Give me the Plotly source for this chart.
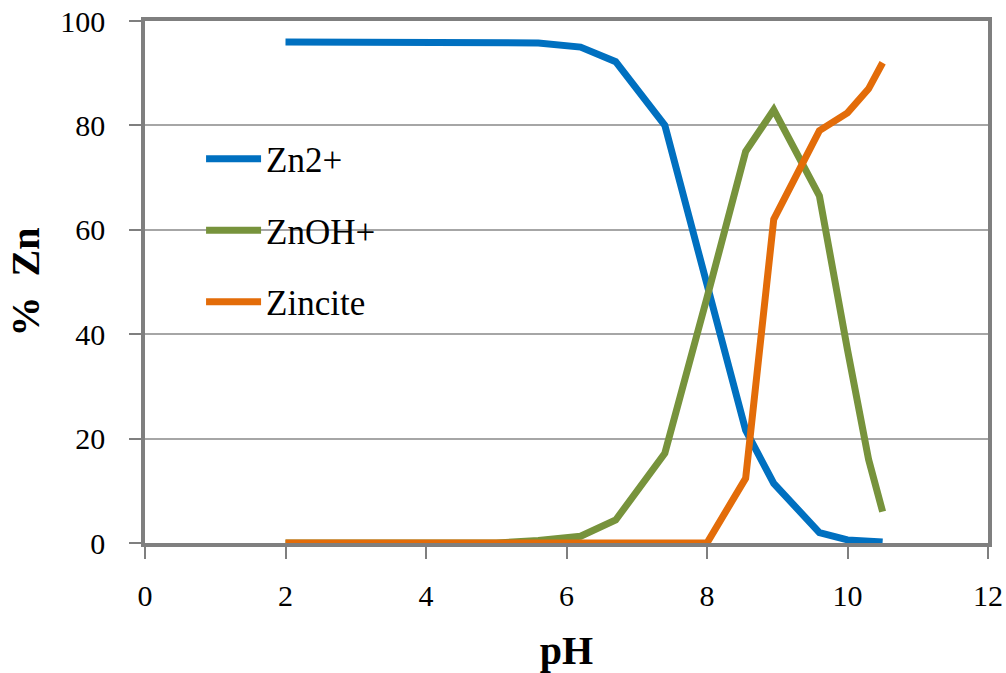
import plotly.graph_objects as go

ph = [2, 2.5, 3, 3.5, 4, 4.5, 5, 5.6, 6.2, 6.7, 7.4, 8.0, 8.55, 8.95, 9.6, 10.0, 10.3, 10.5]
zn2 = [96, 96, 96, 96, 96, 96, 96, 95.8, 95, 92.2, 80, 49, 21.6, 11.4, 2, 0.6, 0.3, 0.2]
znoh = [0, 0, 0, 0, 0, 0, 0, 0.5, 1.3, 4.4, 17.2, 47, 75, 83, 66.5, 37, 16, 6]
zincite = [0, 0, 0, 0, 0, 0, 0, 0, 0, 0, 0, 0, 12.4, 62, 79, 82.4, 87, 92]

series = [("Zn2+", zn2, "#0070C0"), ("ZnOH+", znoh, "#77933C"), ("Zincite", zincite, "#E36C09")]

fig = go.Figure()
for name, vals, col in series:
    fig.add_trace(go.Scatter(x=ph, y=vals, name=name, mode="lines",
                             line=dict(color=col, width=7), legendgroup=name))

font_fam = "Liberation Serif, Times New Roman, serif"
fig.update_layout(
    width=1006, height=673,
    margin=dict(l=145, r=18, t=21, b=130),
    plot_bgcolor="white", paper_bgcolor="white",
    font=dict(family=font_fam, size=30, color="black"),
    legend=dict(x=0.0665, y=0.792, xanchor="left", yanchor="top",
                bgcolor="rgba(0,0,0,0)", font=dict(size=35, family=font_fam),
                tracegroupgap=23, itemwidth=55, traceorder="grouped"),
    xaxis=dict(range=[0, 12], dtick=2, showgrid=False, zeroline=False, automargin=False,
               showline=True, linecolor="#7F7F7F", linewidth=3.5, mirror=True,
               ticks="outside", ticklen=12, tickcolor="#7F7F7F", tickwidth=1.5,
               ticklabelstandoff=11, tickfont=dict(size=30, family=font_fam),
               title=dict(text="<b>pH</b>", font=dict(size=40, family=font_fam), standoff=29)),
    yaxis=dict(range=[0, 100], dtick=20, showgrid=True, gridcolor="#A6A6A6", gridwidth=1.5,
               zeroline=False, showline=True, linecolor="#7F7F7F", linewidth=3.5, mirror=True,
               automargin=False,
               ticks="outside", ticklen=12, tickcolor="#7F7F7F", tickwidth=1.5,
               ticklabelstandoff=18, tickfont=dict(size=30, family=font_fam),
               title=dict(text="<b>%  Zn</b>", font=dict(size=40, family=font_fam), standoff=9)),
)

fig.write_html("out.html", config={"displayModeBar": False},
               post_script="document.body.style.margin='0';document.body.style.overflow='hidden';")
